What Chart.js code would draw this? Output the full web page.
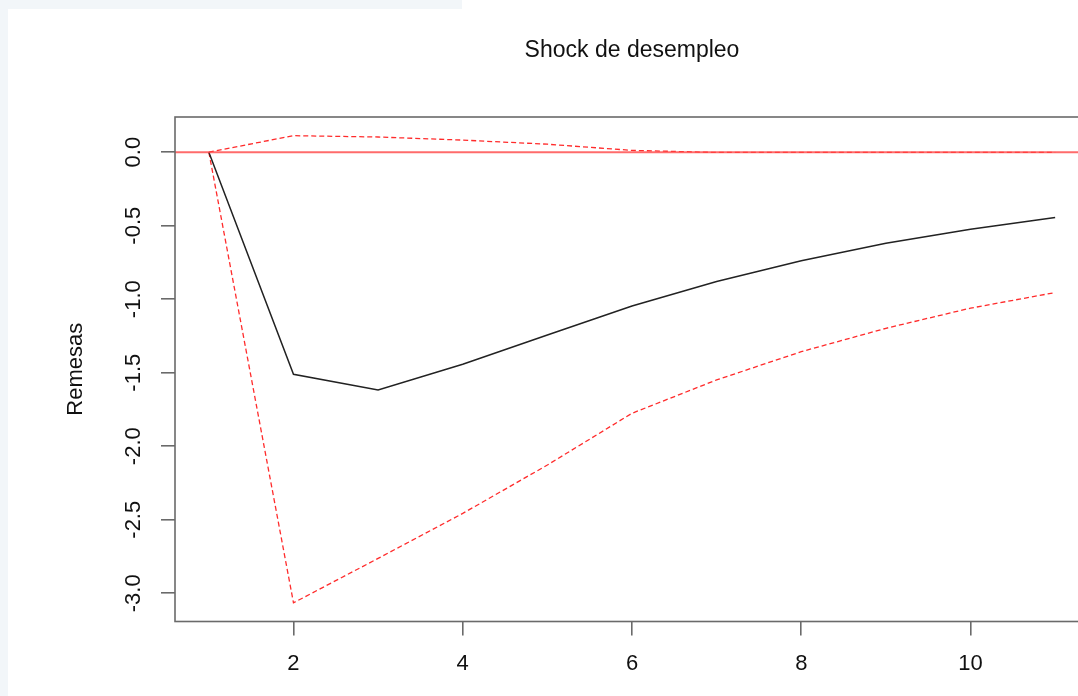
<!DOCTYPE html>
<html>
<head>
<meta charset="utf-8">
<script src="https://cdn.jsdelivr.net/npm/chart.js@4.4.1/dist/chart.umd.min.js"></script>
<style>
  html, body { margin: 0; padding: 0; background: #fff; overflow: hidden; width: 1078px; height: 696px; }
  #stripTop { position: absolute; left: 0; top: 0; width: 462px; height: 9px; background: #f2f6f9; }
  #stripLeft { position: absolute; left: 0; top: 0; width: 8px; height: 696px; background: #f2f6f9; }
  #wrap { position: absolute; left: 0; top: 0; width: 1100px; height: 696px; }
</style>
</head>
<body>
<div id="stripTop"></div>
<div id="stripLeft"></div>
<div id="wrap"><canvas id="myChart" width="1100" height="696"></canvas></div>
<script>
// horizonte de la respuesta al impulso
var periodos = [1, 2, 3, 4, 5, 6, 7, 8, 9, 10, 11];
var irf      = [0, -1.511, -1.617, -1.443, -1.243, -1.046, -0.880, -0.739, -0.619, -0.524, -0.444];
var inferior = [0, -3.065, -2.763, -2.457, -2.128, -1.776, -1.549, -1.357, -1.198, -1.061, -0.955];
var superior = [0, 0.112, 0.103, 0.082, 0.054, 0.012, -0.002, -0.002, -0.002, -0.002, -0.001];
var xTicks = [2, 4, 6, 8, 10];
var yTicks = [0, -0.5, -1.0, -1.5, -2.0, -2.5, -3.0];

var fuente = "'Liberation Sans', Arial, Helvetica, sans-serif";

function puntos(ys) {
	var out = [];
	for (var i in periodos) {
		out.push({x: periodos[i], y: ys[i]});
	}
	return out;
}

// rango al estilo de R (4% a cada lado)
var todos = irf.concat(inferior, superior);
var yMin = Math.min.apply(null, todos), yMax = Math.max.apply(null, todos);
var xMin = Math.min.apply(null, periodos), xMax = Math.max.apply(null, periodos);
var yExt = (yMax - yMin) * 0.04, xExt = (xMax - xMin) * 0.04;

var marco = {
	id: 'marco',
	afterDatasetsDraw: function(chart) {
		var ctx = chart.ctx, a = chart.chartArea, y = chart.scales.y;
		// linea de cero (abline), encima de las bandas
		var y0 = y.getPixelForValue(0);
		ctx.save();
		ctx.strokeStyle = 'rgba(255, 70, 70, 0.8)';
		ctx.lineWidth = 2;
		ctx.beginPath();
		ctx.moveTo(a.left, y0);
		ctx.lineTo(a.right, y0);
		ctx.stroke();
		ctx.restore();
	},
	afterDraw: function(chart) {
		var ctx = chart.ctx, a = chart.chartArea, y = chart.scales.y;
		ctx.save();
		ctx.strokeStyle = '#6a6a6a';
		ctx.lineWidth = 1.6;
		ctx.strokeRect(a.left, a.top, a.right - a.left, a.bottom - a.top);

		ctx.fillStyle = '#111';
		ctx.textAlign = 'center';
		ctx.textBaseline = 'middle';
		ctx.font = '23px ' + fuente;
		ctx.fillText('Shock de desempleo', (a.left + a.right) / 2, 51);

		// etiquetas del eje y, giradas como en R
		ctx.font = '22px ' + fuente;
		y.ticks.forEach(function(t) {
			var py = y.getPixelForValue(t.value);
			ctx.save();
			ctx.translate(134, py);
			ctx.rotate(-Math.PI / 2);
			ctx.fillText(t.value.toFixed(1), 0, 0);
			ctx.restore();
		});

		ctx.save();
		ctx.translate(76, (a.top + a.bottom) / 2);
		ctx.rotate(-Math.PI / 2);
		ctx.fillText('Remesas', 0, 0);
		ctx.restore();
		ctx.restore();
	}
};

var ctx = document.getElementById('myChart');

var grafico = new Chart(ctx, {
	type: 'line',
	data: {
		datasets: [
			{
				label: 'irf',
				data: puntos(irf),
				borderColor: '#222',
				borderWidth: 1.5,
				pointRadius: 0,
				tension: 0,
				order: 1
			},
			{
				label: 'inferior',
				data: puntos(inferior),
				borderColor: 'rgba(255, 20, 20, 0.9)',
				borderWidth: 1.3,
				borderDash: [5, 3],
				pointRadius: 0,
				tension: 0,
				order: 2
			},
			{
				label: 'superior',
				data: puntos(superior),
				borderColor: 'rgba(255, 20, 20, 0.9)',
				borderWidth: 1.3,
				borderDash: [5, 3],
				pointRadius: 0,
				tension: 0,
				order: 3
			}
		]
	},
	options: {
		responsive: false,
		animation: false,
		devicePixelRatio: 1,
		layout: { padding: { top: 117, right: 11, left: 0, bottom: 0 } },
		plugins: {
			legend: { display: false },
			tooltip: { enabled: false },
			title: { display: false }
		},
		scales: {
			x: {
				type: 'linear',
				min: xMin - xExt,
				max: xMax + xExt,
				afterBuildTicks: function(scale) {
					scale.ticks = xTicks.map(function(v) { return {value: v}; });
				},
				afterFit: function(scale) { scale.height = 74.5; },
				grid: { drawOnChartArea: false, drawTicks: true, tickLength: 14, color: '#6a6a6a', lineWidth: 1.6 },
				border: { display: false },
				ticks: {
					color: '#111',
					padding: 15,
					maxRotation: 0,
					font: { family: fuente, size: 22 },
					callback: function(v) { return String(v); }
				}
			},
			y: {
				type: 'linear',
				min: yMin - yExt,
				max: yMax + yExt,
				afterBuildTicks: function(scale) {
					scale.ticks = yTicks.map(function(v) { return {value: v}; });
				},
				afterFit: function(scale) { scale.width = 175; },
				grid: { drawOnChartArea: false, drawTicks: true, tickLength: 14, color: '#6a6a6a', lineWidth: 1.6 },
				border: { display: false },
				ticks: { display: false }
			}
		}
	},
	plugins: [marco]
});
</script>
</body>
</html>
